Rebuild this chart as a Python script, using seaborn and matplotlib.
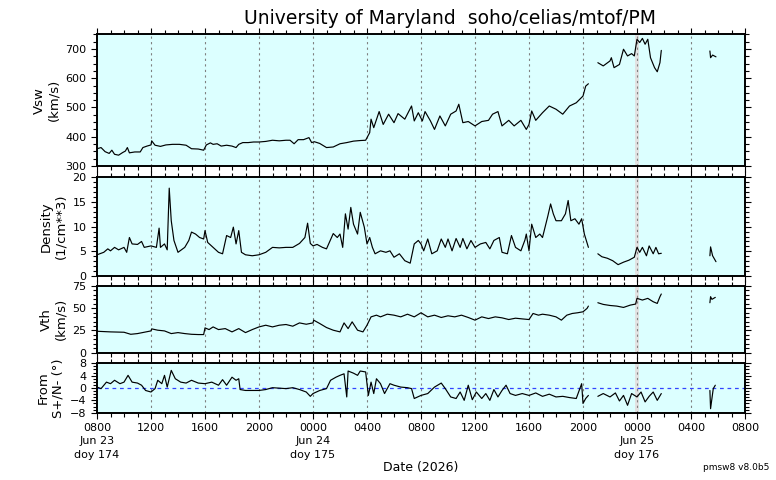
import numpy as np
import pandas as pd
import matplotlib
matplotlib.use("Agg")
import matplotlib.pyplot as plt
from matplotlib.ticker import MultipleLocator
from matplotlib.patches import Rectangle
import seaborn as sns

# ---------------- data (hours after 2026-06-23 08:00) ----------------
# segment ids: 0 = main, 1 = after first gap, 2 = short late segment
vsw_t = [0, 0.3, 0.6, 0.9, 1.1, 1.3, 1.6, 1.9, 2.1, 2.25, 2.4, 2.8, 3.2, 3.4, 3.7, 4.0, 4.05, 4.3, 4.7, 5.1,
         5.6, 6.1, 6.6, 7.0, 7.5, 7.9, 8.1, 8.4, 8.6, 8.9, 9.2, 9.6, 10.0, 10.3, 10.5, 10.8, 11.2, 11.6, 12.0, 12.5,
         13.0, 13.5, 14.0, 14.3, 14.6, 14.9, 15.3, 15.7, 15.9, 16.1, 16.5, 17.0, 17.5, 18.0, 18.5, 19.0, 19.5, 19.9,
         20.2, 20.3, 20.5, 20.9, 21.2, 21.6, 22.0, 22.3, 22.8, 23.3, 23.5, 23.8, 24.1, 24.3, 24.7, 25.0, 25.4, 25.8,
         26.2, 26.6, 26.8, 27.1, 27.5, 28.0, 28.5, 29.0, 29.3, 29.7, 30.0, 30.5, 30.9, 31.4, 31.8, 32.0, 32.2, 32.5,
         33.0, 33.5, 34.0, 34.5, 35.0, 35.5, 36.0, 36.2, 36.4,
         37.1, 37.5, 38.0, 38.1, 38.3, 38.7, 39.0, 39.3, 39.6, 39.8, 40.0, 40.2, 40.4, 40.6, 40.8, 41.0, 41.3, 41.5,
         41.7, 41.8,
         45.4, 45.45, 45.6, 45.85]
vsw = [359, 363, 349, 343, 354, 340, 337, 346, 351, 363, 345, 348, 348, 363, 368, 372, 386, 371, 367, 372,
       374, 374, 371, 359, 358, 354, 372, 379, 374, 376, 368, 371, 368, 363, 374, 380, 380, 382, 382, 384,
       388, 386, 388, 388, 376, 390, 390, 397, 380, 383, 377, 363, 365, 376, 380, 385, 387, 388,
       414, 460, 431, 486, 442, 477, 448, 479, 460, 505, 454, 482, 454, 486, 454, 425, 471, 437,
       477, 488, 511, 448, 452, 437, 452, 456, 477, 486, 437, 456, 437, 456, 425, 442, 488, 456,
       482, 505, 494, 477, 505, 516, 539, 573, 581,
       653, 642, 659, 670, 636, 647, 699, 676, 684, 676, 733, 722, 736, 716, 733, 670, 636, 622,
       653, 695,
       693, 670, 679, 673]
vsw_seg = [0] * 103 + [1] * 20 + [2] * 4

den_t = [0, 0.5, 0.8, 1.0, 1.3, 1.6, 2.0, 2.2, 2.4, 2.6, 3.0, 3.3, 3.5, 4.0, 4.4, 4.6, 4.7, 5.0, 5.2, 5.35,
         5.5, 5.7, 6.0, 6.5, 6.8, 7.0, 7.3, 7.6, 7.9, 8.0, 8.2, 8.6, 9.0, 9.3, 9.6, 9.9, 10.1, 10.3, 10.5, 10.7,
         11.0, 11.5, 12.0, 12.5, 13.0, 13.5, 14.0, 14.5, 15.0, 15.4, 15.6, 15.8, 16.0, 16.3, 16.7, 17.0, 17.5, 17.8,
         18.0, 18.2, 18.4, 18.6, 18.8, 19.0, 19.3, 19.5, 19.8, 20.0, 20.2, 20.4, 20.6, 21.0, 21.4, 21.7, 22.0, 22.4,
         22.8, 23.2, 23.5, 23.8, 24.0, 24.2, 24.5, 24.8, 25.2, 25.5, 25.8, 26.0, 26.3, 26.6, 26.9, 27.1, 27.4, 27.7,
         28.0, 28.4, 28.8, 29.1, 29.4, 29.8, 30.0, 30.4, 30.7, 31.0, 31.4, 31.7, 31.8, 32.0, 32.2, 32.5, 32.8, 33.0,
         33.4, 33.6, 33.8, 34.0, 34.4, 34.7, 34.9, 35.1, 35.4, 35.7, 35.9, 36.1, 36.4,
         37.1, 37.4, 37.8, 38.2, 38.6, 39.0, 39.4, 39.8, 40.0, 40.2, 40.4, 40.7, 40.9, 41.2, 41.4, 41.6, 41.8,
         45.4, 45.45, 45.6, 45.85]
den = [4.3, 4.8, 5.5, 5.1, 5.8, 5.3, 5.8, 4.8, 7.8, 6.5, 6.4, 7.0, 5.8, 6.1, 5.8, 9.7, 5.8, 6.5, 5.3, 17.8,
       11.2, 7.2, 4.8, 5.8, 7.2, 8.9, 8.5, 7.8, 7.5, 9.2, 6.8, 5.8, 4.8, 4.5, 8.2, 7.8, 9.9, 6.5, 9.2, 4.8,
       4.3, 4.1, 4.3, 4.8, 5.8, 5.7, 5.8, 5.8, 6.6, 7.8, 10.7, 6.6, 6.1, 6.4, 5.8, 5.5, 8.6, 7.8,
       8.5, 5.8, 12.6, 9.5, 13.9, 10.5, 8.5, 12.9, 9.9, 6.5, 7.8, 5.8, 4.5, 5.1, 4.8, 5.1, 3.8, 4.5,
       3.1, 2.6, 6.5, 7.2, 6.5, 5.1, 7.5, 4.5, 5.1, 7.5, 5.8, 7.5, 5.1, 7.6, 5.8, 7.6, 5.5, 7.2,
       5.8, 6.5, 6.8, 5.5, 7.2, 7.8, 4.8, 4.5, 8.2, 5.8, 5.1, 7.3, 8.5, 5.1, 10.5, 7.8, 8.5, 7.8,
       12.2, 14.6, 12.6, 11.2, 11.2, 12.6, 15.3, 11.2, 11.6, 10.5, 11.6, 8.5, 5.8,
       4.5, 3.9, 3.6, 3.1, 2.3, 2.8, 3.2, 3.8, 5.8, 4.8, 5.8, 4.1, 6.1, 4.5, 5.8, 4.5, 4.6,
       4.1, 5.9, 4.1, 2.9]
den_seg = [0] * 125 + [1] * 17 + [2] * 4

vth_t = [0, 1, 2, 2.5, 3, 3.5, 4, 4.05, 4.5, 5, 5.5, 6, 6.5, 7, 7.5, 7.9, 8.0, 8.3, 8.6, 9, 9.5, 10, 10.5,
         11, 11.5, 12, 12.5, 13, 13.5, 14, 14.5, 15, 15.5, 16, 16.05, 16.5, 17, 17.5, 18, 18.3, 18.6, 18.9, 19.3,
         19.7, 20, 20.3, 20.7, 21, 21.5, 22, 22.5, 23, 23.5, 24, 24.5, 25, 25.5, 26, 26.5, 27, 27.5, 28, 28.5,
         29, 29.5, 30, 30.5, 31, 31.5, 32, 32.3, 32.7, 33, 33.5, 34, 34.4, 34.8, 35.2, 35.6, 36, 36.3, 36.4,
         37.1, 37.5, 38, 38.5, 39, 39.5, 39.9, 40.0, 40.4, 40.8, 41.2, 41.5, 41.7, 41.8,
         45.4, 45.45, 45.55, 45.8]
vth = [24.1, 23.4, 23.0, 20.7, 21.5, 23.0, 24.5, 26.8, 25.3, 24.5, 21.5, 22.6, 21.5, 20.7, 20.4, 20.4, 27.9,
       26.0, 29.0, 26.0, 27.1, 23.4, 27.1, 22.6, 26.0, 29.0, 30.9, 29.0, 30.9, 31.7, 29.8, 33.5, 32.0, 33.5,
       36.6, 32.8, 28.3, 25.3, 23.4, 33.5, 27.1, 34.7, 25.3, 23.4, 30.9, 40.3, 42.2, 40.3, 43.3, 42.2, 40.3,
       43.3, 40.3, 44.9, 40.3, 42.2, 39.6, 41.5, 40.3, 42.2, 39.6, 36.6, 40.3, 38.4, 40.3, 39.2, 37.3, 38.8,
       38.0, 37.3, 44.1, 42.2, 43.3, 42.2, 40.3, 36.6, 42.2, 44.1, 44.9, 46.0, 49.8, 52.4,
       56.2, 54.3, 53.1, 52.4, 50.9, 53.5, 54.7, 61.1, 59.2, 61.1, 57.3, 55.4, 63.0, 66.0,
       56.2, 63.0, 60.0, 62.2]
vth_seg = [0] * 82 + [1] * 14 + [2] * 4

dir_t = [0, 0.3, 0.7, 1, 1.3, 1.7, 2, 2.3, 2.6, 3, 3.3, 3.6, 4, 4.3, 4.5, 4.8, 5.0, 5.2, 5.5, 5.8, 6.2, 6.6,
         7, 7.5, 8, 8.5, 9, 9.3, 9.6, 10, 10.3, 10.5, 10.6, 11, 12, 12.5, 13, 14, 14.5, 15, 15.5, 15.8, 16,
         16.5, 17, 17.3, 17.7, 18, 18.3, 18.5, 18.6, 19, 19.3, 19.5, 19.9, 20.1, 20.3, 20.5, 20.7, 21, 21.3,
         21.7, 22, 22.5, 23, 23.3, 23.5, 24, 24.5, 25, 25.5, 25.8, 26.2, 26.6, 26.9, 27.2, 27.5, 27.8, 28.1,
         28.5, 28.8, 29.1, 29.4, 29.7, 30, 30.3, 30.6, 31, 31.5, 32, 32.5, 33, 33.5, 34, 34.5, 35, 35.5, 35.9,
         36.0, 36.2, 36.4,
         37.1, 37.5, 38, 38.4, 38.7, 39, 39.3, 39.6, 40, 40.3, 40.6, 40.9, 41.2, 41.5, 41.8,
         45.4, 45.45, 45.55, 45.65, 45.8]
fdir = [0.3, -0.2, 1.9, 1.4, 2.5, 1.4, 1.9, 4.1, 1.9, 1.6, 0.9, -0.8, -1.3, -0.2, 2.5, 1.4, 4.1, 0.3, 5.7,
        3.0, 1.9, 1.6, 2.5, 1.6, 1.4, 1.9, 0.9, 2.7, 0.9, 3.5, 2.5, 3.0, -0.5, -0.8, -0.8, -0.5, 0.1, -0.2,
        0.1, -0.5, -1.3, -2.7, -1.8, -0.8, -0.2, 2.5, 3.5, 4.1, 4.6, -2.9, 5.5, 4.8, 4.1, 5.5, 5.2, -2.4,
        1.9, -1.8, 3.0, 1.4, -1.8, 1.4, 0.9, 0.3, 0.1, -0.2, -3.4, -2.4, -1.8, 0.3, 1.6, -0.2, -2.9, -3.4,
        -1.3, -4.0, 0.9, -3.8, -1.3, -3.4, -1.8, -4.0, -0.5, -2.9, -0.8, 0.9, -1.8, -2.4, -1.8, -2.4, -1.6,
        -2.7, -2.0, -2.9, -2.7, -3.1, -3.4, 1.4, -5.0, -3.4, -2.4,
        -2.7, -1.8, -2.9, -1.6, -4.2, -2.4, -5.6, -1.8, -2.9, -1.3, -4.5, -2.7, -1.3, -4.0, -1.8,
        -0.8, -6.7, -3.4, -0.2, 0.9]
dir_seg = [0] * 101 + [1] * 15 + [2] * 5

xtick_labels = ["0800\nJun 23\ndoy 174", "1200", "1600", "2000", "0000\nJun 24\ndoy 175", "0400",
                "0800", "1200", "1600", "2000", "0000\nJun 25\ndoy 176", "0400", "0800"]

panels = [
    (vsw_t, vsw, vsw_seg, "Vsw\n(km/s)", (300, 750), 100, 25),
    (den_t, den, den_seg, "Density\n(1/cm**3)", (0, 20), 5, 1),
    (vth_t, vth, vth_seg, "Vth\n(km/s)", (0, 75), 25, 5),
    (dir_t, fdir, dir_seg, "From\nS+/N- (\u00b0)", (-8, 8), 4, 1),
]

# ---------------- figure ----------------
sns.set_style("ticks")
plt.rcParams["font.family"] = ["DejaVu Sans"]
plt.rcParams["text.color"] = "black"
plt.rcParams["axes.labelcolor"] = "black"
plt.rcParams["xtick.color"] = "black"
plt.rcParams["ytick.color"] = "black"
plt.rcParams["xtick.labelcolor"] = "black"
plt.rcParams["ytick.labelcolor"] = "black"
fig = plt.figure(figsize=(7.76, 4.80), dpi=100)

W, H = 776, 480
rects_px = [(34.3, 166.0), (177.3, 276.0), (286.0, 352.7), (363.3, 412.7)]
left, right = 97 / W, 745 / W

axes = []
for i, ((t, v, seg, lab, ylim, maj, mnr), (top, bot)) in enumerate(zip(panels, rects_px)):
    ax = fig.add_axes([left, 1 - bot / H, right - left, (bot - top) / H])
    ax.set_facecolor("#dcffff")
    ax.add_patch(Rectangle((39.88, 0), 0.25, 1, transform=ax.get_xaxis_transform(),
                           facecolor="#e2e2e2", edgecolor="none", zorder=0.8))
    for xv in range(4, 48, 4):
        ax.axvline(xv, color="#808080", ls=(0, (2, 3)), lw=0.8, zorder=1)
    if i == 3:
        ax.axhline(0, color="#3344ff", ls=(0, (3, 3)), lw=0.9, zorder=1)
    df = pd.DataFrame({"t": t, "v": v, "seg": seg})
    sns.lineplot(data=df, x="t", y="v", units="seg", estimator=None, sort=False,
                 color="black", lw=0.85, ax=ax, zorder=3, legend=False)
    ax.set_xlim(0, 48)
    ax.set_ylim(*ylim)
    ax.xaxis.set_major_locator(MultipleLocator(4))
    ax.xaxis.set_minor_locator(MultipleLocator(1))
    ax.yaxis.set_major_locator(MultipleLocator(maj))
    ax.yaxis.set_minor_locator(MultipleLocator(mnr))
    ax.tick_params(which="both", direction="out", top=True, right=True, bottom=True, left=True,
                   labelsize=8, width=0.8, color="black", labelcolor="black")
    ax.tick_params(which="major", length=4)
    ax.tick_params(which="minor", length=3)
    for s in ax.spines.values():
        s.set_linewidth(1.4)
        s.set_color("black")
    ax.set_ylabel(lab, fontsize=9.5, linespacing=1.15, color="black")
    ax.set_xlabel("")
    if i < 3:
        ax.set_xticklabels([])
    else:
        ax.set_xticks(range(0, 49, 4))
        ax.set_xticklabels(xtick_labels, fontsize=8, linespacing=1.4)
        ax.set_xlabel("Date (2026)", fontsize=9, labelpad=1, color="black")
    axes.append(ax)

fig.align_ylabels(axes)
fig.text(0.58, 0.962, "University of Maryland  soho/celias/mtof/PM", ha="center", va="center",
         fontsize=13.5, color="black")
fig.text(0.992, 0.027, "pmsw8 v8.0b5", ha="right", va="center", fontsize=6.5, color="black")

fig.savefig("out.png", dpi=100)
